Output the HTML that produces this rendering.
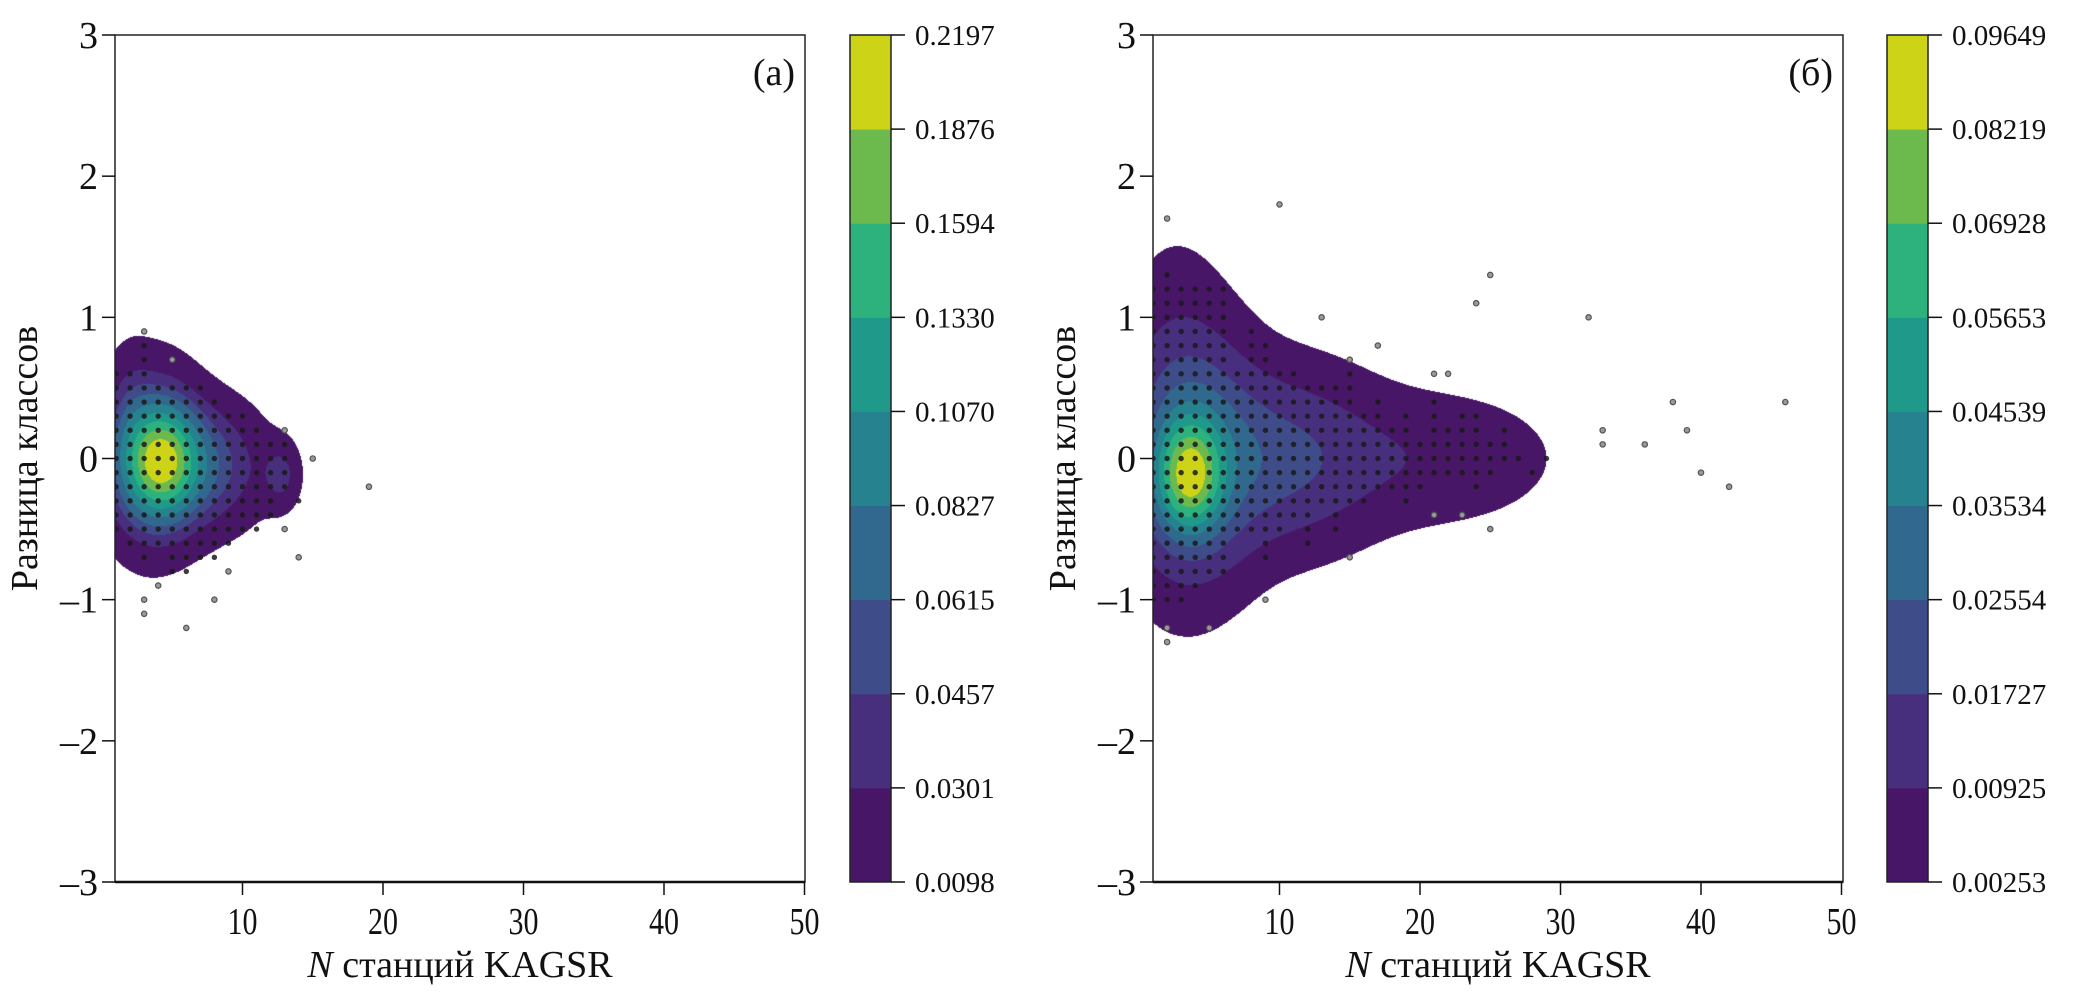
<!DOCTYPE html>
<html><head><meta charset="utf-8">
<style>
html,body{margin:0;padding:0;background:#fff;}
#wrap{position:relative;width:2087px;height:997px;overflow:hidden;}
canvas{position:absolute;}
svg{position:absolute;left:0;top:0;}
text{font-family:"Liberation Serif","DejaVu Serif",serif;fill:#111;}
</style></head>
<body>
<div id="wrap">
<canvas id="cvA"></canvas>
<canvas id="cvB"></canvas>
<svg id="svg" width="2087" height="997" xmlns="http://www.w3.org/2000/svg"></svg>
</div>
<script>
// ---------- data ----------
const xTicks = [10, 20, 30, 40, 50];
const yTicks = [-3, -2, -1, 0, 1, 2, 3];
const levelsA = [0.0098, 0.0301, 0.0457, 0.0615, 0.0827, 0.1070, 0.1330, 0.1594, 0.1876, 0.2197];
const levelsB = [0.00253, 0.00925, 0.01727, 0.02554, 0.03534, 0.04539, 0.05653, 0.06928, 0.08219, 0.09649];
const bandColors = ["#481667", "#472f7d", "#3e4c8a", "#31688e", "#26828e", "#1f9a8a", "#2db27d", "#6cba4e", "#cdd418"];
// KDE-like components: [x, y, sx, sy, weight]
const kernelsA = [[4.2,-0.02,1.7,0.24,1.0],[3.5,0.0,2.4,0.42,0.50],[8.0,-0.05,2.6,0.30,0.33],[12.8,-0.12,0.9,0.16,0.22],[2.0,0.35,1.0,0.30,0.08]];
const kernelsB = [[3.6,-0.12,1.5,0.25,1.0],[4.0,0.0,3.0,0.55,0.40],[10.0,0.0,4.5,0.40,0.30],[21.0,0.0,5.5,0.30,0.12],[2.5,0.3,2.5,0.75,0.12]];
// dot columns: [x, yMin, yMax] (grid points every 0.1)
const coreA = [[1,-0.5,0.6],[2,-0.6,0.6],[3,-0.7,0.8],[4,-0.6,0.5],[5,-0.8,0.5],[6,-0.8,0.5],[7,-0.7,0.5],[8,-0.7,0.4],[9,-0.6,0.3],[10,-0.5,0.3],[11,-0.5,0.2],[12,-0.4,0.1],[13,-0.2,0.1],[14,-0.3,-0.3]];
const outA = [[3,0.9],[5,0.7],[3,-1.0],[3,-1.1],[4,-0.9],[6,-1.2],[8,-1.0],[9,-0.8],[13,0.2],[13,-0.5],[14,-0.7],[15,0.0],[19,-0.2]];
const coreB = [[1,-1.0,1.2],[2,-1.0,1.3],[3,-1.0,1.2],[4,-0.9,1.2],[5,-0.8,1.2],[6,-0.8,1.2],[7,-0.5,0.6],[8,-0.5,0.9],[9,-0.7,0.8],[10,-0.5,0.6],[11,-0.4,0.6],[12,-0.6,0.5],[13,-0.3,0.5],[14,-0.5,0.5],[15,-0.3,0.7],[16,-0.3,0.3],[17,-0.2,0.4],[18,-0.2,0.2],[19,-0.3,0.3],[20,-0.2,0.1],[21,-0.1,0.4],[22,-0.1,0.2],[23,-0.1,0.3],[24,-0.2,0.3],[25,-0.1,0.1],[26,0.0,0.2],[27,0.0,0.0],[28,-0.1,-0.1],[29,0.0,0.0]];
const outB = [[2,1.7],[10,1.8],[2,-1.2],[2,-1.3],[5,-1.2],[9,-1.0],[13,1.0],[17,0.8],[15,0.7],[25,1.3],[24,1.1],[21,0.6],[22,0.6],[32,1.0],[33,0.2],[33,0.1],[36,0.1],[38,0.4],[39,0.2],[40,-0.1],[42,-0.2],[46,0.4],[21,-0.4],[23,-0.4],[25,-0.5],[15,-0.7]];

// ---------- layout ----------
const NS = "http://www.w3.org/2000/svg";
const svg = document.getElementById('svg');
const TOP = 35, BOT = 882, YMIN = -3, YMAX = 3;
const panels = [
  {id:'a', left:115, right:805, x0:102, xmin:0.9, cbL:850, cbR:891, label:'(а)', levels:levelsA, kernels:kernelsA, core:coreA, out:outA, cv:'cvA', labDigits:4},
  {id:'b', left:1153, right:1843, x0:1139, xmin:0.95, cbL:1887, cbR:1928, label:'(б)', levels:levelsB, kernels:kernelsB, core:coreB, out:outB, cv:'cvB', labDigits:5}
];
const XU = 14.05;
function yScale(v){ return BOT - (v - YMIN) / (YMAX - YMIN) * (BOT - TOP); }
function mk(tag, attrs, parent){ const e = document.createElementNS(NS, tag); for (const k in attrs) e.setAttribute(k, attrs[k]); (parent||svg).appendChild(e); return e; }

function field(ks, x, y){
  let s = 0;
  for (const k of ks){ const dx=(x-k[0])/k[2], dy=(y-k[1])/k[3]; s += k[4]*Math.exp(-0.5*(dx*dx+dy*dy)); }
  return s;
}

panels.forEach(p => {
  const xScale = v => p.x0 + v * XU;
  const xInv = px => (px - p.x0) / XU;
  const yInv = py => YMIN + (BOT - py) / (BOT - TOP) * (YMAX - YMIN);
  const cv = document.getElementById(p.cv);
  const W = p.right - p.left, H = BOT - TOP;
  cv.width = W; cv.height = H; cv.style.left = p.left + 'px'; cv.style.top = TOP + 'px';
  const ctx = cv.getContext('2d');
  const vals = new Float32Array(W*H); let fmax = 0;
  for (let j=0;j<H;j++){ const yy = yInv(TOP+j+0.5); for (let i=0;i<W;i++){ const v = field(p.kernels, xInv(p.left+i+0.5), yy); vals[j*W+i]=v; if (v>fmax) fmax=v; } }
  const img = ctx.createImageData(W,H);
  const lv = p.levels, top = lv[lv.length-1];
  const rgb = bandColors.map(c => [parseInt(c.slice(1,3),16),parseInt(c.slice(3,5),16),parseInt(c.slice(5,7),16)]);
  for (let n=0;n<W*H;n++){
    const v = vals[n]/fmax*top; let b=-1;
    for (let k=0;k<lv.length-1;k++) if (v>=lv[k]) b=k;
    const o=n*4;
    if (b<0){ img.data[o]=255;img.data[o+1]=255;img.data[o+2]=255;img.data[o+3]=0; }
    else { const c=rgb[b]; img.data[o]=c[0];img.data[o+1]=c[1];img.data[o+2]=c[2];img.data[o+3]=255; }
  }
  ctx.putImageData(img,0,0);

  const g = mk('g', {});
  
  
  const clipId = 'clip'+p.id;
  const cp = mk('clipPath', {id:clipId}, g); mk('rect', {x:p.left, y:TOP, width:W, height:H}, cp);
  const dg = mk('g', {'clip-path':'url(#'+clipId+')'}, g);
  
  
  p.core.forEach(c => {
    for (let t = Math.round(c[1]*10); t <= Math.round(c[2]*10); t++){
      const d = mk('circle', {cx:xScale(c[0]), cy:yScale(t/10), r:2.7, fill:'#1a1a1a', 'fill-opacity':0.85}, dg);
      
      
    }
  });
  p.out.forEach(c => {
    const d = mk('circle', {cx:xScale(c[0]), cy:yScale(c[1]), r:2.7, fill:'#999', stroke:'#555', 'stroke-width':1.2}, dg);
    
    
  });
  const fr = mk('rect', {x:p.left, y:TOP, width:W, height:H, fill:'none', stroke:'#222', 'stroke-width':1.5}, g);
  
  
  mk('line', {x1:p.left, y1:BOT, x2:p.right, y2:BOT, stroke:'#111', 'stroke-width':2.5}, g);
  xTicks.forEach(t => {
    const x = xScale(t);
    mk('line', {x1:x, y1:BOT, x2:x, y2:BOT+13, stroke:'#111', 'stroke-width':1.5}, g);
    const tx = mk('text', {x:x, y:BOT+52, 'font-size':38, 'text-anchor':'middle', textLength:(String(t).length*15), lengthAdjust:'spacingAndGlyphs'}, g);
    tx.textContent = t;
    
    
  });
  yTicks.forEach(t => {
    const y = yScale(t);
    mk('line', {x1:p.left-13, y1:y, x2:p.left, y2:y, stroke:'#111', 'stroke-width':1.5}, g);
    const tx = mk('text', {x:p.left-17, y:y+13, 'font-size':38, 'text-anchor':'end'}, g);
    tx.textContent = t < 0 ? '\u2013' + Math.abs(t) : String(t);
    
    
  });
  const xt = mk('text', {x:(p.left+p.right)/2, y:BOT+95, 'font-size':38, 'text-anchor':'middle'}, g);
  xt.innerHTML = '<tspan font-style="italic">N</tspan> станций KAGSR';
  
  
  const yx = p.left - 78, yy = (TOP+BOT)/2;
  const yt = mk('text', {x:yx, y:yy, 'font-size':38, 'text-anchor':'middle', transform:'rotate(-90 '+yx+' '+yy+')'}, g);
  yt.textContent = 'Разница классов';
  
  
  const pl = mk('text', {x:p.right-10, y:TOP+50, 'font-size':38, 'text-anchor':'end'}, g);
  pl.textContent = p.label;
  
  
  const cb = mk('g', {}, g);
  
  
  const n = lv.length - 1, bh = H / n;
  for (let k=0;k<n;k++){
    const r = mk('rect', {x:p.cbL, y:BOT-(k+1)*bh, width:p.cbR-p.cbL, height:bh+0.5, fill:bandColors[k]}, cb);
    
    
  }
  mk('rect', {x:p.cbL, y:TOP, width:p.cbR-p.cbL, height:H, fill:'none', stroke:'#222', 'stroke-width':1.5}, cb);
  lv.forEach((v,k) => {
    const y = BOT - k*bh;
    mk('line', {x1:p.cbR, y1:y, x2:p.cbR+14, y2:y, stroke:'#111', 'stroke-width':1.5}, cb);
    const tx = mk('text', {x:p.cbR+24, y:y+10, 'font-size':29}, cb);
    tx.textContent = v.toFixed(p.labDigits);
    
    
  });
});
</script>
</body></html>
